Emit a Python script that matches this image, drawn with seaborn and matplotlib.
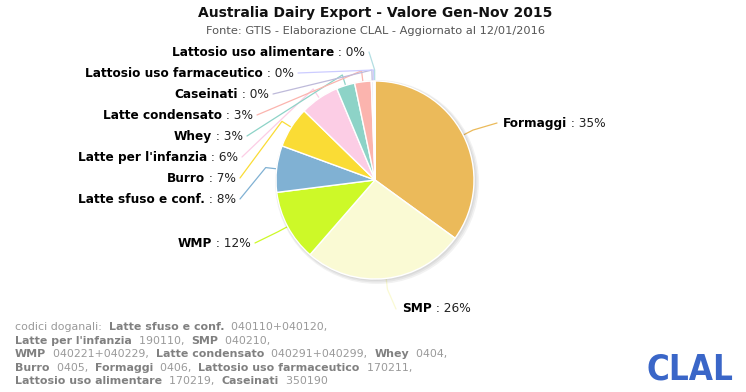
import numpy as np
import matplotlib
matplotlib.use("Agg")
import matplotlib.pyplot as plt
import seaborn as sns
from matplotlib.patches import Circle

categories = ["Formaggi", "SMP", "WMP", "Latte sfuso e conf.", "Burro",
              "Latte per l'infanzia", "Whey", "Latte condensato", "Caseinati",
              "Lattosio uso farmaceutico", "Lattosio uso alimentare"]
values = [35.0, 26.4, 11.6, 7.6, 6.7, 6.4, 3.0, 2.7, 0.3, 0.2, 0.1]
colors = ["#EBBA5A", "#FAFAD4", "#CDF928", "#80B1D3", "#FADC35", "#FCCDE5",
          "#8DD3C7", "#FBB4AE", "#BEBADA", "#CCCCFF", "#B3DEE2"]

# label layout (x anchor, y center, side) in pixel coordinates
label_pos = {
    "Formaggi": (503, 123, "R"),
    "SMP": (402, 309, "R"),
    "WMP": (251, 243, "L"),
    "Latte sfuso e conf.": (236, 199, "L"),
    "Burro": (236, 178, "L"),
    "Latte per l'infanzia": (238, 157, "L"),
    "Whey": (243, 136, "L"),
    "Latte condensato": (253, 115, "L"),
    "Caseinati": (269, 94, "L"),
    "Lattosio uso farmaceutico": (294, 73, "L"),
    "Lattosio uso alimentare": (365, 52, "L"),
}

sns.set_theme(style="white")
plt.rcParams["font.family"] = ["DejaVu Sans"]

W, H = 746, 392
fig = plt.figure(figsize=(W / 100, H / 100), dpi=100)
ax = fig.add_axes([0, 0, 1, 1])
ax.set_xlim(0, W)
ax.set_ylim(H, 0)
ax.axis("off")

cx, cy, R = 375, 180, 99

# shadow
for i, a in enumerate([0.05, 0.05, 0.05]):
    ax.add_patch(Circle((cx + 1 + i * 0.5, cy + 1 + i * 0.5), R + 1 + i, color="black",
                        alpha=a, lw=0, zorder=1))

wedges, _ = ax.pie(values, colors=colors, startangle=-90, counterclock=True,
                   center=(cx, cy), radius=R, frame=True,
                   wedgeprops=dict(edgecolor="white", linewidth=1, zorder=2))
ax.set_xlim(0, W)
ax.set_ylim(H, 0)
ax.axis("off")

renderer = fig.canvas.get_renderer()
fs_lab = 8.7


def rich(x, y, parts, ha="left", fs=8.4, va="center"):
    texts = []
    widths = []
    for s, w, c in parts:
        t = ax.text(0, y, s, fontsize=fs, fontweight=w, color=c, va=va, ha="left")
        widths.append(t.get_window_extent(renderer).width)
        texts.append(t)
    total = sum(widths)
    x0 = x - total if ha == "right" else (x - total / 2 if ha == "center" else x)
    for t, wd in zip(texts, widths):
        t.set_x(x0)
        x0 += wd
    return total


for cat, v, col, wdg in zip(categories, values, colors, wedges):
    lx, ly, side = label_pos[cat]
    parts = [(cat, "bold", "black"), (f" : {round(v):.0f}%", "normal", "#222222")]
    rich(lx, ly, parts, ha="right" if side == "L" else "left", fs=fs_lab)
    mid = np.deg2rad((wdg.theta1 + wdg.theta2) / 2)
    ex, ey = cx + R * np.cos(mid), cy + R * np.sin(mid)
    bx, by = cx + (R + 11) * np.cos(mid), cy + (R + 11) * np.sin(mid)
    ax_ = lx + 4 if side == "L" else lx - 6
    ax.plot([ax_, bx, ex], [ly, by, ey], color=col, lw=0.9, zorder=0,
            solid_joinstyle="round")

# title & subtitle
ax.text(W / 2 + 2, 13, "Australia Dairy Export - Valore Gen-Nov 2015", fontsize=10,
        fontweight="bold", color="#111111", ha="center", va="center")
ax.text(W / 2 + 2, 31, "Fonte: GTIS - Elaborazione CLAL - Aggiornato al 12/01/2016",
        fontsize=8.2, color="#555555", ha="center", va="center")

# footnote
n, b = "#9a9a9a", "#808080"
lines = [
    [("codici doganali:  ", "normal", n), ("Latte sfuso e conf.", "bold", b), ("  040110+040120,", "normal", n)],
    [("Latte per l'infanzia", "bold", b), ("  190110,  ", "normal", n), ("SMP", "bold", b), ("  040210,", "normal", n)],
    [("WMP", "bold", b), ("  040221+040229,  ", "normal", n), ("Latte condensato", "bold", b),
     ("  040291+040299,  ", "normal", n), ("Whey", "bold", b), ("  0404,", "normal", n)],
    [("Burro", "bold", b), ("  0405,  ", "normal", n), ("Formaggi", "bold", b), ("  0406,  ", "normal", n),
     ("Lattosio uso farmaceutico", "bold", b), ("  170211,", "normal", n)],
    [("Lattosio uso alimentare", "bold", b), ("  170219,  ", "normal", n), ("Caseinati", "bold", b),
     ("  350190", "normal", n)],
]
for i, parts in enumerate(lines):
    rich(15, 327 + i * 13.6, parts, fs=7.9)

# logo
ax.text(690, 370, "CLAL", fontsize=25, fontweight="heavy", fontstretch="condensed",
        color="#3A66C8", ha="center", va="center")

fig.savefig("out.png", dpi=100)
